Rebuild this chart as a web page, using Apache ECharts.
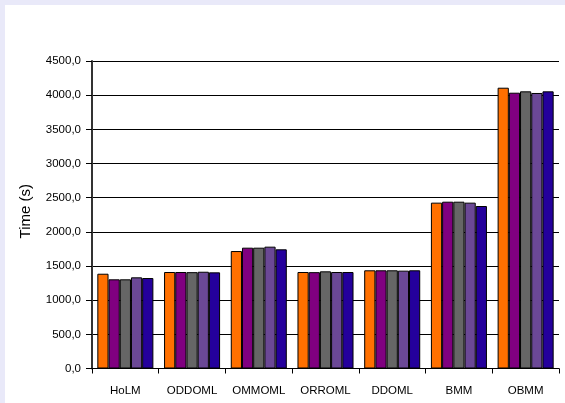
<!DOCTYPE html>
<html>
<head>
<meta charset="utf-8">
<script src="https://cdn.jsdelivr.net/npm/echarts@6/dist/echarts.min.js"></script>
<style>
html,body{margin:0;padding:0;background:#e9e9f9;}
#wrap{position:absolute;left:0;top:0;width:565px;height:403px;background:#e9e9f9;}
#chart{position:absolute;left:5px;top:5px;width:560px;height:398px;background:#ffffff;}
</style>
</head>
<body>
<div id="wrap"><div id="chart"></div></div>
<script>
const categories = ['HoLM','ODDOML','OMMOML','ORROML','DDOML','BMM','OBMM'];
const s1 = [1387, 1412, 1719, 1412, 1437, 2427, 4109];
const s2 = [1305, 1412, 1768, 1410, 1437, 2441, 4036];
const s3 = [1305, 1410, 1768, 1422, 1437, 2441, 4056];
const s4 = [1334, 1416, 1783, 1412, 1432, 2427, 4032];
const s5 = [1324, 1407, 1744, 1412, 1437, 2378, 4056];
const seriesData = [s1, s2, s3, s4, s5];
const colors = ['#ff7000', '#800080', '#666666', '#6b4896', '#24009c'];
const yMin = 0, yMax = 4500, yStep = 500;

const chart = echarts.init(document.getElementById('chart'));
chart.setOption({
  animation: false,
  grid: {left: 87, right: 6, top: 56, bottom: 34.5},
  xAxis: {
    type: 'category',
    data: categories,
    axisLine: {show: true, lineStyle: {color: '#000', width: 1}},
    axisTick: {show: true, length: 5, lineStyle: {color: '#000'}},
    axisLabel: {color: '#000', fontFamily: 'Liberation Sans', fontSize: 11.5, margin: 16,
      interval: 0, hideOverlap: false}
  },
  yAxis: {
    type: 'value',
    min: yMin, max: yMax, interval: yStep,
    name: 'Time (s)',
    nameLocation: 'middle',
    nameGap: 59,
    nameTextStyle: {color: '#000', fontFamily: 'Liberation Sans', fontSize: 15, padding: [0, 0, 0, 7]},
    axisLine: {show: true, lineStyle: {color: '#333', width: 2}},
    axisTick: {show: true, length: 6, lineStyle: {color: '#000'}},
    axisLabel: {color: '#000', fontFamily: 'Liberation Sans', fontSize: 11.5, margin: 11,
      formatter: v => v.toFixed(1).replace('.', ',')},
    splitLine: {show: true, lineStyle: {color: '#000', width: 1}}
  },
  series: seriesData.map((d, i) => ({
    type: 'bar',
    data: d,
    barGap: '0%',
    barCategoryGap: '16%',
    itemStyle: {color: colors[i], borderColor: '#000', borderWidth: 1}
  }))
});
</script>
</body>
</html>
